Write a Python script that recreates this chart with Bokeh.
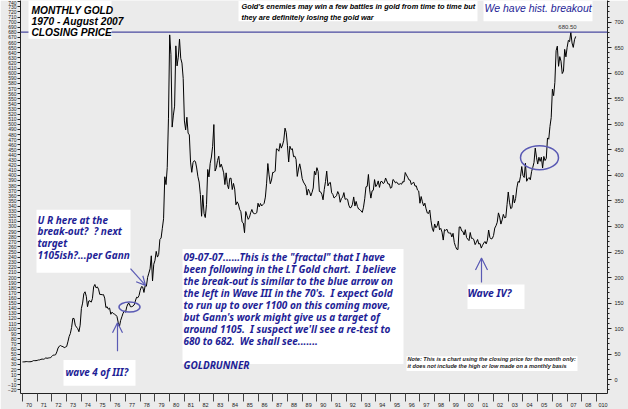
from bokeh.plotting import figure
from bokeh.models import (FixedTicker, LinearAxis, Range1d, Label, BoxAnnotation,
                          Arrow, OpenHead, Span, CustomJSTickFormatter)
from bokeh.embed import file_html
from bokeh.resources import INLINE

# ---------------- data: monthly closing gold price (USD/oz) ----------------
gold_1970s = [
    34.9, 35.0, 35.1, 35.6, 35.5, 35.3, 35.3, 35.4, 36.2, 37.5, 37.4, 37.4,
    37.9, 38.7, 38.9, 39.9, 40.5, 40.1, 41.0, 42.8, 42.0, 42.5, 43.0, 43.5,
    45.8, 48.3, 48.3, 49.0, 54.6, 62.1, 65.7, 67.0, 65.5, 64.9, 62.9, 63.9,
    65.1, 74.2, 84.5, 90.5, 102.0, 120.0, 120.0, 106.8, 103.0, 100.1, 94.0, 106.7,
    139.3, 150.0, 168.4, 172.2, 163.3, 142.9, 154.1, 154.6, 151.8, 158.8, 181.7, 186.5,
    179.8, 181.8, 177.3, 167.0, 167.0, 166.3, 166.7, 159.8, 141.3, 142.9, 138.2, 140.3,
    128.2, 132.3, 129.6, 128.4, 126.8, 123.8, 112.5, 104.0, 116.0, 123.2, 130.3, 134.5,
    132.3, 142.8, 148.9, 149.2, 143.0, 143.0, 144.1, 146.3, 154.1, 161.5, 160.5, 165.0,
    175.3, 182.3, 181.6, 170.9, 184.2, 183.1, 200.3, 208.7, 217.1, 242.6, 193.4, 226.0,
    233.7, 251.3, 240.1, 245.3, 274.6, 277.5, 296.5, 315.1, 397.3, 382.0, 415.7, 512.0,
]
gold_1980s = [
    675.0, 637.0, 494.5, 518.0, 535.5, 653.5, 614.3, 631.3, 666.8, 629.0, 619.8, 589.8,
    506.5, 489.0, 513.8, 482.8, 479.3, 426.0, 406.0, 425.0, 428.8, 427.0, 414.5, 397.5,
    387.0, 362.6, 320.0, 361.3, 325.3, 317.5, 342.9, 411.5, 397.0, 423.3, 436.0, 456.9,
    499.5, 408.5, 414.8, 429.3, 437.5, 416.0, 422.0, 414.3, 405.0, 382.0, 405.0, 382.4,
    373.8, 394.3, 394.5, 372.3, 384.3, 373.1, 342.4, 348.3, 343.8, 333.5, 329.0, 309.0,
    306.7, 287.8, 329.3, 321.4, 314.0, 317.8, 327.0, 333.3, 326.5, 325.1, 325.3, 327.0,
    345.5, 338.2, 345.0, 340.2, 342.9, 345.3, 357.5, 384.7, 423.2, 401.0, 383.5, 390.9,
    405.9, 405.8, 408.5, 452.0, 451.0, 447.3, 462.5, 453.4, 459.5, 468.8, 492.5, 484.1,
    458.0, 426.2, 457.0, 450.7, 452.2, 436.5, 437.6, 431.3, 398.0, 412.4, 422.6, 410.3,
    394.0, 387.0, 383.2, 378.7, 361.4, 373.0, 368.3, 359.8, 366.5, 375.3, 408.2, 401.0,
]
gold_1990s = [
    415.1, 407.7, 368.5, 367.8, 363.1, 352.2, 372.3, 387.8, 408.4, 379.5, 384.9, 386.2,
    366.0, 362.7, 355.7, 357.8, 360.4, 368.4, 362.9, 347.4, 354.9, 357.5, 366.3, 353.2,
    354.1, 353.1, 341.7, 336.4, 337.5, 343.4, 357.8, 340.0, 349.0, 339.3, 334.2, 333.0,
    330.5, 327.6, 337.8, 354.3, 377.5, 378.5, 401.8, 371.6, 355.5, 369.6, 370.9, 391.8,
    377.9, 381.6, 389.2, 376.5, 387.6, 388.3, 384.0, 385.8, 394.9, 389.1, 383.1, 383.3,
    374.9, 376.4, 392.0, 389.8, 385.3, 387.1, 383.4, 382.4, 384.0, 382.7, 387.8, 387.0,
    405.6, 400.7, 396.4, 391.3, 390.6, 382.0, 385.3, 386.5, 379.0, 379.5, 371.3, 369.3,
    345.5, 358.6, 348.2, 340.2, 345.6, 334.6, 326.4, 325.4, 332.1, 311.4, 296.8, 290.2,
    304.9, 297.4, 301.0, 310.7, 293.6, 296.3, 288.9, 273.4, 293.9, 292.3, 294.7, 287.8,
    287.1, 287.3, 279.5, 286.6, 268.6, 261.0, 255.6, 254.8, 299.0, 299.1, 291.4, 290.3,
]
gold_2000s = [
    283.3, 293.7, 278.4, 275.1, 272.3, 288.2, 276.8, 277.0, 273.7, 264.5, 269.1, 274.5,
    265.6, 266.7, 257.7, 263.2, 267.5, 270.6, 265.9, 273.0, 293.1, 278.8, 275.5, 276.5,
    282.3, 296.9, 301.4, 308.2, 326.6, 318.5, 304.7, 312.8, 323.7, 316.9, 317.7, 342.8,
    367.5, 347.5, 334.9, 336.8, 361.4, 346.0, 354.8, 375.6, 388.0, 386.3, 398.4, 417.3,
    399.8, 395.9, 423.7, 388.5, 393.3, 395.8, 391.4, 407.3, 415.7, 425.6, 453.4, 435.6,
    422.2, 435.5, 427.5, 435.7, 414.5, 437.1, 429.0, 433.3, 473.3, 470.8, 495.7, 513.0,
    568.8, 556.0, 582.0, 644.0, 653.0, 613.5, 632.5, 623.5, 599.3, 603.8, 646.7, 632.0,
    650.5, 664.2, 661.8, 680.5, 659.1, 650.5, 665.5, 672.0,
]
start_year = 1970
breakout_level = 680.5
breakout_text = "680.50"

x_tick_years = list(range(1970, 2010))
x_tick_labels = ["70", "71", "72", "73", "74", "75", "76", "77", "78", "79",
                 "80", "81", "82", "83", "84", "85", "86", "87", "88", "89",
                 "90", "91", "92", "93", "94", "95", "96", "97", "98", "99",
                 "00", "01", "02", "03", "04", "05", "06", "07", "08", "010"]
left_ticks = list(range(-20, 741, 10))
right_ticks = list(range(0, 701, 50))
right_minor = list(range(-20, 741, 10))

closes = gold_1970s + gold_1980s + gold_1990s + gold_2000s
months = [start_year + i / 12.0 for i in range(len(closes))]

# ---------------- geometry ----------------
W, H = 628, 409
FL, FR, FT, FB = 20, 607, 0, 400
PX_PER_YEAR = 14.72
X0 = 1970 - (22 - FL) / PX_PER_YEAR
X1 = 1970 + (FR - 22) / PX_PER_YEAR
Y0, Y1 = -26.9, 742.3

def dx(px):
    return X0 + (px - FL) * (X1 - X0) / (FR - FL)

def dy(py):
    return Y1 - (py - FT) * (Y1 - Y0) / (FB - FT)

BG = "#ebebeb"
TXT_BLUE = "#1e1e96"
LINE_BLUE = "#5a5ab4"
AX_FONT = "Liberation Sans"
NOTE_FONT = "Noto Sans"
NB = "\u00a0 "  # preserved double space

p = figure(width=W, height=H, x_range=Range1d(X0, X1), y_range=Range1d(Y0, Y1),
           output_backend="svg", toolbar_location=None,
           x_axis_location=None, y_axis_location=None,
           min_border_left=FL, min_border_right=W - FR, min_border_top=FT,
           min_border_bottom=H - FB,
           background_fill_color=BG, border_fill_color=BG, outline_line_color=None)
p.xgrid.visible = False
p.ygrid.visible = False

# axes
left_ax = LinearAxis(ticker=FixedTicker(ticks=left_ticks, minor_ticks=[]),
                     major_label_text_font=AX_FONT, major_label_text_font_size="5px",
                     major_label_text_color="#222222", major_label_standoff=1,
                     major_tick_out=3, major_tick_in=0, minor_tick_out=0, minor_tick_in=0,
                     axis_line_color="#222222", major_tick_line_color="#222222")
p.add_layout(left_ax, "left")

right_ax = LinearAxis(ticker=FixedTicker(ticks=right_ticks, minor_ticks=right_minor),
                      major_label_text_font=AX_FONT, major_label_text_font_size="5.5px",
                      major_label_text_color="#222222", major_label_standoff=3,
                      major_tick_out=4, major_tick_in=0, minor_tick_out=2, minor_tick_in=0,
                      axis_line_color="#222222", major_tick_line_color="#222222",
                      minor_tick_line_color="#222222")
p.add_layout(right_ax, "right")

x_fmt = CustomJSTickFormatter(args=dict(labels=x_tick_labels, first=x_tick_years[0]),
                              code="const i = Math.round(tick - 0.44) - first; return labels[i] || '';")
bottom_ax = LinearAxis(ticker=FixedTicker(ticks=[y + 0.44 for y in x_tick_years],
                                          minor_ticks=x_tick_years),
                       formatter=x_fmt,
                       major_label_text_font=AX_FONT, major_label_text_font_size="5.5px",
                       major_label_text_color="#222222", major_label_standoff=1,
                       major_tick_out=0, major_tick_in=0, minor_tick_out=8, minor_tick_in=0,
                       axis_line_color="#222222", minor_tick_line_color="#444444")
p.add_layout(bottom_ax, "below")

# breakout line
p.add_layout(Span(location=breakout_level, dimension="width",
                  line_color="#4a4aa0", line_width=1.2))

# price line
p.line(months, closes, line_color="black", line_width=1)

# ellipses
p.ellipse(x=[dx(129), dx(539)], y=[dy(312), dy(160)], width=[21, 38], height=[10, 24],
          width_units="screen", height_units="screen",
          fill_alpha=0, line_color=LINE_BLUE, line_width=1.5)

# white boxes
def box(l, t, r, b):
    p.add_layout(BoxAnnotation(left=dx(l), right=dx(r), top=dy(t), bottom=dy(b),
                               fill_color="white", fill_alpha=1, line_color=None,
                               line_alpha=0))

box(28, 0, 111, 39)
box(238, 0, 477, 21)
box(483, 0, 592, 21)
box(36, 213, 130, 277)
box(63, 366, 135, 392)
box(182, 253, 403, 370)
box(467, 289, 524, 314)
box(406, 362, 577, 377)

def label(px, py, text, size, color, font=AX_FONT, style="bold italic", align="left",
          lh=1.2):
    p.add_layout(Label(x=dx(px), y=dy(py), text=text, text_font=font,
                       text_font_size=size, text_font_style=style, text_color=color,
                       text_align=align, text_baseline="top", text_line_height=lh))

label(31, 5, "MONTHLY GOLD\n1970 - August 2007\nCLOSING PRICE", "10.2px", "black", lh=0.97)
label(241, 2, "Gold's enemies may win a few battles in gold from time to time but\n"
              "they are definitely losing the gold war", "7.4px", "black", lh=1.15)
label(484, 2, "We have hist. breakout", "10.5px", TXT_BLUE, style="italic")
label(567, 25, breakout_text, "6px", "#333333", style="normal", align="center")

label(37, 216, "U R here at the\nbreak-out?" + NB + "? next\ntarget\n1105ish?...per Gann",
      "10px", TXT_BLUE, font=NOTE_FONT, lh=0.84)
label(65, 371, "wave 4 of III?", "9.9px", TXT_BLUE, font=NOTE_FONT)
label(183, 254,
      "09-07-07......This is the \"fractal\" that I have\n"
      "been following in the LT Gold chart." + NB + "I believe\n"
      "the break-out is similar to the blue arrow on\n"
      "the left in Wave III in the 70's." + NB + "I expect Gold\n"
      "to run up to over 1100 on this coming move,\n"
      "but Gann's work might give us a target of\n"
      "around 1105." + NB + "I suspect we'll see a re-test to\n"
      "680 to 682." + NB + "We shall see.......\n"
      "\n"
      "GOLDRUNNER", "10px", TXT_BLUE, font=NOTE_FONT, lh=0.86)
label(467, 291, "Wave IV?", "10.4px", TXT_BLUE, font=NOTE_FONT)
label(407, 362, "Note: This is a chart using the closing price for the month only:\n"
                "it does not include the high or low made on a monthly basis",
      "5.6px", "#222222", lh=1.1)

# arrows
def arrow(x0, y0, x1, y1, size):
    p.add_layout(Arrow(end=OpenHead(size=size, line_color=LINE_BLUE, line_width=1.2),
                       x_start=dx(x0), y_start=dy(y0), x_end=dx(x1), y_end=dy(y1),
                       line_color=LINE_BLUE, line_width=1.2))

arrow(130, 273, 145, 290, 9)
arrow(117, 357, 117, 328, 10)
arrow(481, 287, 481, 262, 12)

open("out.html", "w").write(file_html(p, INLINE))
